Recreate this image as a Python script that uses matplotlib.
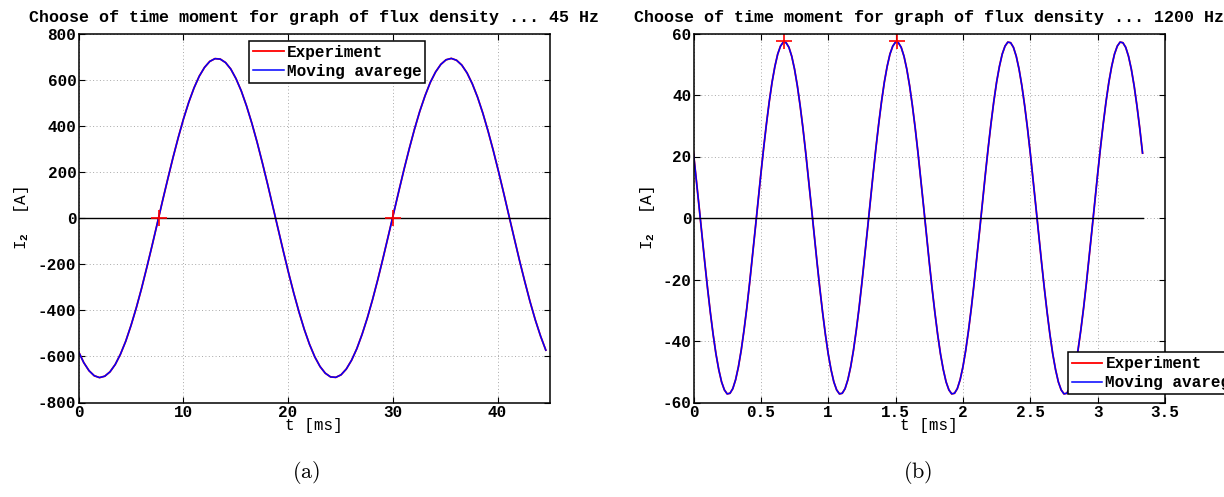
import numpy as np
import matplotlib
matplotlib.use("Agg")
import matplotlib.pyplot as plt
from matplotlib.ticker import FormatStrFormatter

plt.rcParams['font.family'] = ['Liberation Mono', 'DejaVu Sans Mono']
plt.rcParams['font.weight'] = 'bold'
plt.rcParams['axes.unicode_minus'] = False
plt.rcParams['mathtext.fontset'] = 'custom'
plt.rcParams['mathtext.rm'] = 'Liberation Mono:bold'
plt.rcParams['mathtext.it'] = 'Liberation Mono:bold'
plt.rcParams['mathtext.bf'] = 'Liberation Mono:bold'

# 45 Hz record, samples spread evenly from 0 to 44.6 ms
T_END_45 = 44.6
I2_45 = [-579, -627, -662, -684, -692, -686, -667, -635, -590, -534,
         -466, -390, -306, -215, -121, -24, 74, 169, 262, 349,
         430, 502, 564, 615, 653, 679, 691, 689, 674, 646,
         604, 551, 486, 412, 330, 241, 148, 51, -46, -143,
         -237, -326, -408, -483, -548, -602, -644, -673, -689, -691,
         -680, -655, -617, -567, -505, -434, -354, -267, -174, -78,
         19, 116, 211, 301, 386, 463, 530, 588, 633, 666,
         686, 692, 684, 663, 629, 582, 524, 455, 377, 292,
         201, 106, 8, -89, -185, -276, -363, -442, -512, -573]
MARK_T_45 = [7.64, 29.97]
MARK_I_45 = [0, 0]

# 1200 Hz record, one sample every 1/48 ms
T_STEP_1200 = 1 / 48
I2_1200 = [21.1, 12.5, 3.6, -5.4, -14.3, -22.8, -30.7, -37.9, -44.2, -49.3,
           -53.3, -55.9, -57.2, -57.0, -55.5, -52.6, -48.4, -43.0, -36.5, -29.2,
           -21.1, -12.5, -3.6, 5.4, 14.3, 22.8, 30.7, 37.9, 44.2, 49.3,
           53.3, 55.9, 57.2, 57.0, 55.5, 52.6, 48.4, 43.0, 36.5, 29.2,
           21.1, 12.5, 3.6, -5.4, -14.3, -22.8, -30.7, -37.9, -44.2, -49.3,
           -53.3, -55.9, -57.2, -57.0, -55.5, -52.6, -48.4, -43.0, -36.5, -29.2,
           -21.1, -12.5, -3.6, 5.4, 14.3, 22.8, 30.7, 37.9, 44.2, 49.3,
           53.3, 55.9, 57.2, 57.0, 55.5, 52.6, 48.4, 43.0, 36.5, 29.2,
           21.1, 12.5, 3.6, -5.4, -14.3, -22.8, -30.7, -37.9, -44.2, -49.3,
           -53.3, -55.9, -57.2, -57.0, -55.5, -52.6, -48.4, -43.0, -36.5, -29.2,
           -21.1, -12.5, -3.6, 5.4, 14.3, 22.8, 30.7, 37.9, 44.2, 49.3,
           53.3, 55.9, 57.2, 57.0, 55.5, 52.6, 48.4, 43.0, 36.5, 29.2,
           21.1, 12.5, 3.6, -5.4, -14.3, -22.8, -30.7, -37.9, -44.2, -49.3,
           -53.3, -55.9, -57.2, -57.0, -55.5, -52.6, -48.4, -43.0, -36.5, -29.2,
           -21.1, -12.5, -3.6, 5.4, 14.3, 22.8, 30.7, 37.9, 44.2, 49.3,
           53.3, 55.9, 57.2, 57.0, 55.5, 52.6, 48.4, 43.0, 36.5, 29.2,
           21.1]
MARK_T_1200 = [0.675, 1.508]
MARK_I_1200 = [57.4, 57.4]

TITLE_45 = "Choose of time moment for graph of flux density ... 45 Hz"
TITLE_1200 = "Choose of time moment for graph of flux density ... 1200 Hz"
LABELS = ["Experiment", "Moving avarege"]

W, H = 1224, 497


def draw_panel(ax, t, i2, mark_t, mark_i, title, xticks, yticks, ylab_x):
    ax.plot(t, i2, color="#ff0000", lw=1.3, label=LABELS[0])
    ax.plot(t, i2, color="#0000ff", lw=1.1, label=LABELS[1])
    ax.plot(t, np.zeros_like(t), color="black", lw=1.0)
    ax.plot(mark_t, mark_i, "+", color="#ff0000", ms=11, mew=1.2)

    ax.set_xlim(xticks[0], xticks[-1])
    ax.set_ylim(yticks[0], yticks[-1])
    ax.set_xticks(xticks)
    ax.set_yticks(yticks)
    ax.xaxis.set_major_formatter(FormatStrFormatter("%g"))
    ax.tick_params(direction="in", top=True, right=True, length=4,
                   width=0.8, labelsize=11.5, pad=1.5)
    ax.grid(True, color="#a8a8a8", linestyle=(0, (1, 2.5)), lw=0.7)
    for sp in ax.spines.values():
        sp.set_linewidth(1.1)

    ax.set_title(title, fontsize=12, fontweight="bold", pad=8)
    ax.set_xlabel("t [ms]", fontsize=11.5, labelpad=-1)
    ax.set_ylabel(r"I$_{2}$  [A]", fontsize=11.5)
    ax.yaxis.set_label_coords(ylab_x, 0.5)


fig = plt.figure(figsize=(W / 100, H / 100), dpi=100)
box_h = 369 / H
ax_a = fig.add_axes([78.5 / W, 1 - 402.5 / H, 471.5 / W, box_h])
ax_b = fig.add_axes([693.5 / W, 1 - 402.5 / H, 471.5 / W, box_h])

t45 = np.linspace(0, T_END_45, len(I2_45))
t1200 = np.arange(len(I2_1200)) * T_STEP_1200

draw_panel(ax_a, t45, I2_45, MARK_T_45, MARK_I_45, TITLE_45,
           [0, 10, 20, 30, 40, 45], list(range(-800, 801, 200)), -0.10)
ax_a.set_xticks([0, 10, 20, 30, 40])
ax_a.set_xlim(0, 45)

draw_panel(ax_b, t1200, I2_1200, MARK_T_1200, MARK_I_1200, TITLE_1200,
           [0, 0.5, 1, 1.5, 2, 2.5, 3, 3.5], list(range(-60, 61, 20)), -0.077)

leg_style = dict(fontsize=11.5, frameon=True, fancybox=False, framealpha=1,
                 edgecolor="black", borderpad=0.25, handlelength=1.9,
                 handletextpad=0.2, labelspacing=0.25, borderaxespad=0)
leg_a = ax_a.legend(loc="upper left", bbox_to_anchor=(0.362, 0.98), **leg_style)
leg_b = ax_b.legend(loc="upper left", bbox_to_anchor=(0.794, 0.136), **leg_style)
for leg in (leg_a, leg_b):
    leg.get_frame().set_linewidth(1.1)

fig.text(0.25, 0.05, r"$\mathrm{(a)}$", math_fontfamily="cm",
         fontsize=16, ha="center", va="center")
fig.text(0.75, 0.05, r"$\mathrm{(b)}$", math_fontfamily="cm",
         fontsize=16, ha="center", va="center")

fig.savefig("out.png", dpi=100)
